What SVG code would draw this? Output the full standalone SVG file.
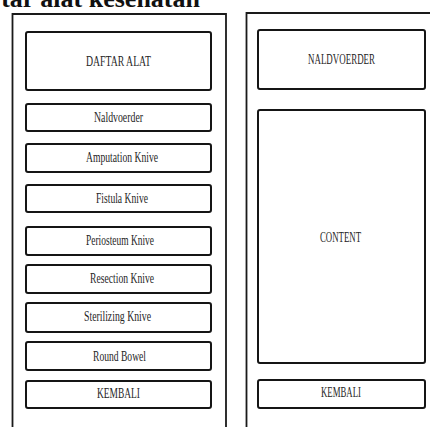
<svg xmlns="http://www.w3.org/2000/svg" width="430" height="427" viewBox="0 0 430 427">
<style>
.panel{fill:none;stroke:#1a1a1a;stroke-width:1.8}
.box{fill:#fff;stroke:#151515;stroke-width:2}
.lbl{font-family:"Liberation Serif","Times New Roman",serif;font-size:14px;fill:#262626;text-anchor:middle}
.title{font-family:"Liberation Serif","Times New Roman",serif;font-size:26px;font-weight:bold;fill:#111;text-anchor:end}
</style>
<rect width="430" height="427" fill="#fff"/>
<text class="title" x="200" y="7">tar alat kesehatan</text>
<g id="left-panel">
<path class="panel" d="M12.5,430 V14 H226 V430"/>
</g>
<g id="right-panel">
<path class="panel" d="M246.5,430 V13 H432"/>
</g>
<g id="daftar-alat"><rect class="box" x="26" y="32" width="185" height="58" rx="2"/><text class="lbl" x="118.5" y="66" textLength="65" lengthAdjust="spacingAndGlyphs">DAFTAR ALAT</text></g>
<g id="naldvoerder"><rect class="box" x="26" y="104" width="185" height="27" rx="2"/><text class="lbl" x="118.5" y="122" textLength="49" lengthAdjust="spacingAndGlyphs">Naldvoerder</text></g>
<g id="amputation"><rect class="box" x="26" y="144" width="185" height="28" rx="2"/><text class="lbl" x="122" y="162" textLength="72" lengthAdjust="spacingAndGlyphs">Amputation Knive</text></g>
<g id="fistula"><rect class="box" x="26" y="185" width="185" height="27" rx="2"/><text class="lbl" x="122" y="203" textLength="52" lengthAdjust="spacingAndGlyphs">Fistula Knive</text></g>
<g id="periosteum"><rect class="box" x="26" y="227" width="185" height="28" rx="2"/><text class="lbl" x="120" y="245" textLength="68" lengthAdjust="spacingAndGlyphs">Periosteum Knive</text></g>
<g id="resection"><rect class="box" x="26" y="265" width="185" height="28" rx="2"/><text class="lbl" x="122" y="283" textLength="64" lengthAdjust="spacingAndGlyphs">Resection Knive</text></g>
<g id="sterilizing"><rect class="box" x="26" y="303" width="185" height="29" rx="2"/><text class="lbl" x="117.5" y="321" textLength="67" lengthAdjust="spacingAndGlyphs">Sterilizing Knive</text></g>
<g id="round-bowel"><rect class="box" x="26" y="342" width="185" height="28" rx="2"/><text class="lbl" x="119.5" y="361" textLength="53" lengthAdjust="spacingAndGlyphs">Round Bowel</text></g>
<g id="kembali-left"><rect class="box" x="26" y="381" width="185" height="27" rx="2"/><text class="lbl" x="118.5" y="398" textLength="43" lengthAdjust="spacingAndGlyphs">KEMBALI</text></g>
<g id="naldvoerder-title"><rect class="box" x="258" y="30" width="167" height="59" rx="2"/><text class="lbl" x="341.5" y="64" textLength="67" lengthAdjust="spacingAndGlyphs">NALDVOERDER</text></g>
<g id="content"><rect class="box" x="258" y="110" width="167" height="253" rx="2"/><text class="lbl" x="340.5" y="242" textLength="41" lengthAdjust="spacingAndGlyphs">CONTENT</text></g>
<g id="kembali-right"><rect class="box" x="258" y="380" width="167" height="28" rx="2"/><text class="lbl" x="341" y="397" textLength="40" lengthAdjust="spacingAndGlyphs">KEMBALI</text></g>
<g id="connectors"></g>
</svg>
